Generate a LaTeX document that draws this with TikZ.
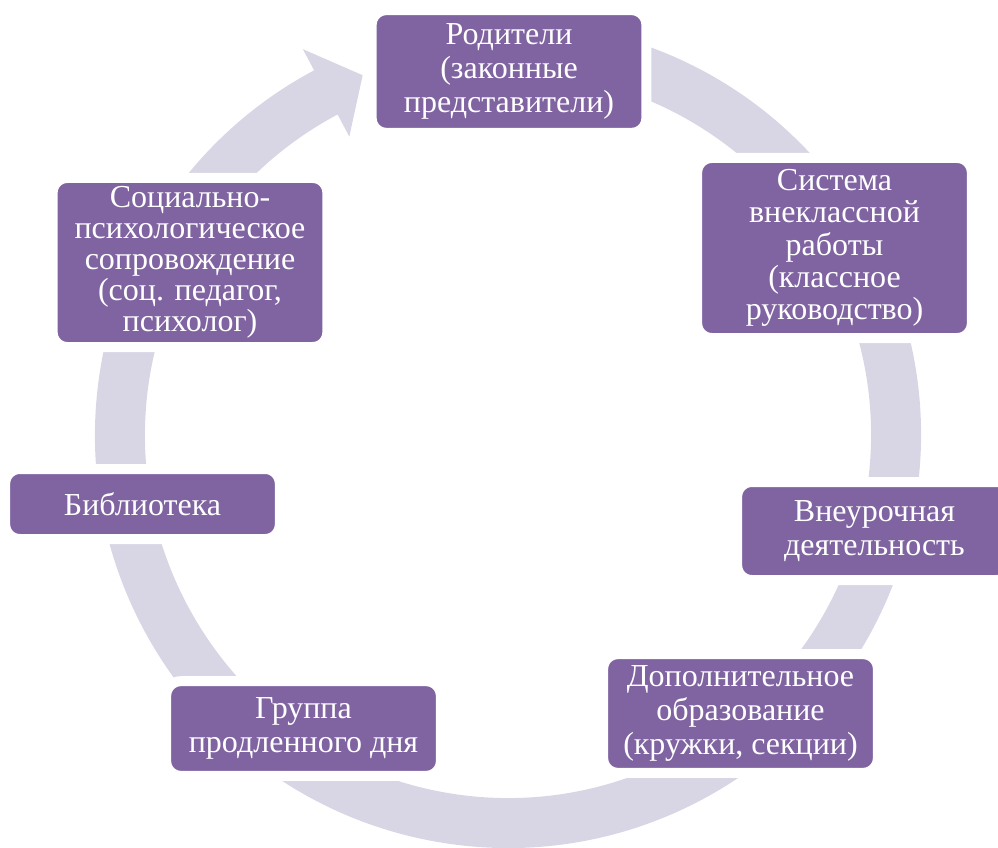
\documentclass[tikz,border=0pt]{standalone}
\usepackage{fontspec}
\setmainfont{Liberation Serif}
\definecolor{boxpurple}{RGB}{128,100,162}
\definecolor{ringlav}{RGB}{216,213,228}
\begin{document}
\begin{tikzpicture}[x=0.75pt,y=-0.75pt]
        \tikzstyle{block}=[rectangle,rounded corners=11pt,draw=white,line width=7.5pt,fill=boxpurple,text=white,align=center,inner sep=0pt,minimum width=206pt,font=\rmfamily\fontsize{24}{25.5}\selectfont]
        \tikzstyle{tight}=[font=\rmfamily\fontsize{24}{24.2}\selectfont]
        \tikzstyle{tighter}=[font=\rmfamily\fontsize{24}{23.2}\selectfont]
        \tikzstyle{ring}=[fill=ringlav]
        \useasboundingbox (0,0) rectangle (998,848);
       \begin{scope}[shift={(508,435)}]
         \fill[ring] (-80:413) arc[start angle=-80,end angle=242,radius=413] -- (242:437) -- (248:388) -- (242:338) -- (242:363) arc[start angle=242,end angle=-80,radius=363] -- cycle;
       \end{scope}
         \node [block,minimum height=92pt] (parents) at (509,71.5) {Родители\\(законные\\представители)};
         \node [block,tight,minimum height=135pt] (classwork) at (834.5,248) {Система\\внеклассной\\работы\\(классное\\руководство)};
         \node [block,minimum height=73.5pt] (extracur) at (874.5,531) {Внеурочная\\деятельность};
         \node [block,minimum height=89pt] (addedu) at (740.5,713.5) {Дополнительное\\образование\\(кружки, секции)};
         \node [block,minimum height=71pt] (afterschool) at (303.5,728.5) {Группа\\продленного дня};
         \node [block,minimum height=52.5pt] (library) at (142.5,504) {Библиотека};
         \node [block,tighter,minimum height=126.75pt] (support) at (190,262.5) {Социально-\\психологическое\\сопровождение\\(соц. педагог,\\психолог)};
      \end{tikzpicture}
\end{document}
